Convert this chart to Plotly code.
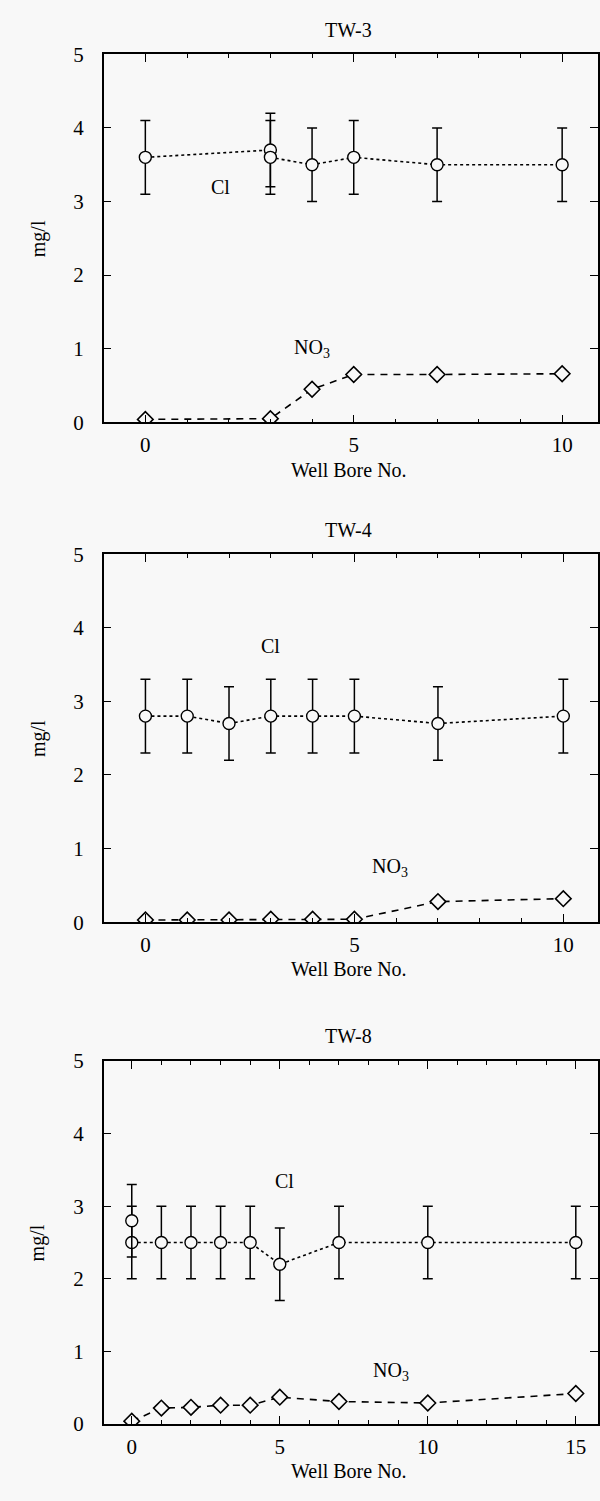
import plotly.graph_objects as go

# ---------------- data ----------------
tw3_cl_x = [0, 3, 3, 4, 5, 7, 10]
tw3_cl_y = [3.6, 3.7, 3.6, 3.5, 3.6, 3.5, 3.5]
tw3_cl_err = [0.5, 0.5, 0.5, 0.5, 0.5, 0.5, 0.5]
tw3_no3_x = [0, 3, 4, 5, 7, 10]
tw3_no3_y = [0.04, 0.05, 0.45, 0.65, 0.65, 0.66]

tw4_x = [0, 1, 2, 3, 4, 5, 7, 10]
tw4_cl_y = [2.8, 2.8, 2.7, 2.8, 2.8, 2.8, 2.7, 2.8]
tw4_cl_err = [0.5, 0.5, 0.5, 0.5, 0.5, 0.5, 0.5, 0.5]
tw4_no3_y = [0.03, 0.03, 0.03, 0.04, 0.04, 0.04, 0.28, 0.32]

tw8_x = [0, 1, 2, 3, 4, 5, 7, 10, 15]
tw8_cl_y = [2.5, 2.5, 2.5, 2.5, 2.5, 2.2, 2.5, 2.5, 2.5]
tw8_cl_err = [0.5, 0.5, 0.5, 0.5, 0.5, 0.5, 0.5, 0.5, 0.5]
tw8_cl_extra_x = [0]
tw8_cl_extra_y = [2.8]
tw8_cl_extra_err = [0.5]
tw8_no3_y = [0.04, 0.22, 0.23, 0.26, 0.26, 0.37, 0.31, 0.29, 0.42]

titles = ["TW-3", "TW-4", "TW-8"]
y_ticks = [0, 1, 2, 3, 4, 5]
x_ticks_10 = [0, 5, 10]
x_ticks_15 = [0, 5, 10, 15]

# ---------------- style ----------------
BG = "#f8f8f8"
FONT = "Liberation Serif"
FS = 20
TFS = 21
W, H = 600, 1501

panels = [
    dict(top=43, bottom=417, xr=[-1.0, 10.86], xt=x_ticks_10),
    dict(top=551, bottom=925, xr=[-1.0, 10.83], xt=x_ticks_10),
    dict(top=1066, bottom=1435, xr=[-0.95, 15.75], xt=x_ticks_15),
]
x_left = 104

fig = go.Figure()


def cl_trace(x, y, err, ax, line=True):
    return go.Scatter(
        x=x, y=y, xaxis="x" + ax, yaxis="y" + ax,
        mode="lines+markers" if line else "markers",
        line=dict(color="black", width=1.6, dash="dot"),
        marker=dict(symbol="circle", size=12, color=BG,
                    line=dict(color="black", width=1.4)),
        error_y=dict(type="data", array=err, visible=True,
                     color="black", thickness=1.5, width=5),
        showlegend=False, hoverinfo="skip",
    )


def no3_trace(x, y, ax):
    return go.Scatter(
        x=x, y=y, xaxis="x" + ax, yaxis="y" + ax,
        mode="lines+markers",
        line=dict(color="black", width=1.6, dash="7px,6px"),
        marker=dict(symbol="diamond", size=12, color=BG,
                    line=dict(color="black", width=1.6)),
        showlegend=False, hoverinfo="skip",
    )


fig.add_trace(cl_trace(tw3_cl_x, tw3_cl_y, tw3_cl_err, ""))
fig.add_trace(no3_trace(tw3_no3_x, tw3_no3_y, ""))
fig.add_trace(cl_trace(tw4_x, tw4_cl_y, tw4_cl_err, "2"))
fig.add_trace(no3_trace(tw4_x, tw4_no3_y, "2"))
fig.add_trace(cl_trace(tw8_x, tw8_cl_y, tw8_cl_err, "3"))
fig.add_trace(cl_trace(tw8_cl_extra_x, tw8_cl_extra_y, tw8_cl_extra_err, "3", line=False))
fig.add_trace(no3_trace(tw8_x, tw8_no3_y, "3"))

layout = dict(
    width=W, height=H,
    paper_bgcolor=BG, plot_bgcolor=BG,
    margin=dict(l=0, r=0, t=0, b=0),
    font=dict(family=FONT, size=FS, color="black"),
    showlegend=False,
)

annotations = []
for i, p in enumerate(panels):
    suf = "" if i == 0 else str(i + 1)
    y0 = 1 - p["bottom"] / H
    y1 = 1 - p["top"] / H
    layout["xaxis" + suf] = dict(
        domain=[x_left / W, 1.0], range=p["xr"], anchor="y" + suf,
        tickvals=p["xt"], ticks="inside", ticklen=8, tickwidth=1.2,
        tickcolor="black", showline=True, linecolor="black", linewidth=1.6,
        mirror="ticks", showgrid=False, zeroline=False,
        ticklabelstandoff=3,
        minor=dict(dtick=1, ticks="inside", ticklen=4, tickwidth=1,
                   tickcolor="black", showgrid=False),
        tickfont=dict(family=FONT, size=TFS),
    )
    layout["yaxis" + suf] = dict(
        domain=[y0, y1], range=[0, 5], anchor="x" + suf,
        tickvals=y_ticks, ticks="inside", ticklen=8, tickwidth=1.2,
        tickcolor="black", showline=True, linecolor="black", linewidth=1.6,
        mirror="ticks", showgrid=False, zeroline=False,
        ticklabelstandoff=14,
        tickfont=dict(family=FONT, size=TFS),
    )
    # panel title
    annotations.append(dict(text=titles[i], xref="paper", yref="paper",
                            x=350 / W, y=1 - (p["top"] - 25) / H,
                            xanchor="center", yanchor="middle",
                            showarrow=False, font=dict(size=FS)))
    # x axis title
    annotations.append(dict(text="Well Bore No.", xref="paper", yref="paper",
                            x=350 / W, y=1 - (p["bottom"] + 48) / H,
                            xanchor="center", yanchor="middle",
                            showarrow=False, font=dict(size=FS)))
    # y axis title
    annotations.append(dict(text="mg/l", xref="paper", yref="paper",
                            x=38 / W, y=1 - ((p["top"] + p["bottom"]) / 2) / H,
                            xanchor="center", yanchor="middle", textangle=-90,
                            showarrow=False, font=dict(size=FS)))

# series labels (data coordinates)
label_pos = [
    ("", 1.8, 3.2, 4.0, 1.0),
    ("2", 3.0, 3.75, 5.85, 0.75),
    ("3", 5.15, 3.35, 8.75, 0.73),
]
for suf, clx, cly, nx, ny in label_pos:
    annotations.append(dict(text="Cl", xref="x" + suf, yref="y" + suf,
                            x=clx, y=cly, showarrow=False,
                            xanchor="center", yanchor="middle",
                            font=dict(size=FS)))
    annotations.append(dict(text="NO<sub>3</sub>", xref="x" + suf, yref="y" + suf,
                            x=nx, y=ny, showarrow=False,
                            xanchor="center", yanchor="middle",
                            font=dict(size=FS)))

layout["annotations"] = annotations
fig.update_layout(**layout)

fig.write_html(
    "out.html",
    config={"displayModeBar": False},
    post_script="document.body.style.margin='0';document.body.style.padding='0';"
                "document.body.style.overflow='hidden';",
)
